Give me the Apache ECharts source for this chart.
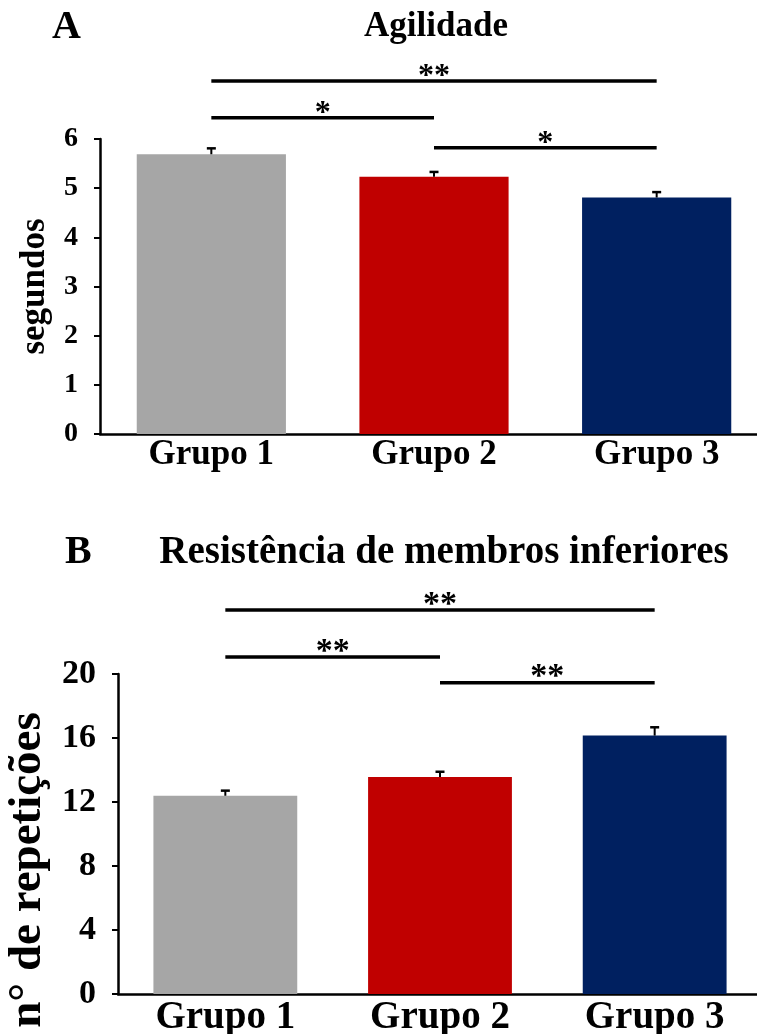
<!DOCTYPE html>
<html>
<head>
<meta charset="utf-8">
<script src="https://cdn.jsdelivr.net/npm/echarts@6/dist/echarts.min.js"></script>
<style>
html,body{margin:0;padding:0;background:#fff;}
#chart{width:757px;height:1034px;}
</style>
</head>
<body>
<div id="chart"></div>
<script>
// ---- data ----
var categories = ['Grupo 1', 'Grupo 2', 'Grupo 3'];
var agilidadeValues = [5.69, 5.23, 4.81];
var agilidadeErr = [0.12, 0.10, 0.11];
var resistenciaValues = [12.39, 13.56, 16.15];
var resistenciaErr = [0.32, 0.33, 0.52];
var agilidadeTicks = [0, 1, 2, 3, 4, 5, 6];
var resistenciaTicks = [0, 4, 8, 12, 16, 20];
// significance brackets: [from category, to category, level (axis units), label]
var agilidadeSig = [[0, 2, 7.18, '**'], [0, 1, 6.43, '*'], [1, 2, 5.82, '*']];
var resistenciaSig = [[0, 2, 24.0, '**'], [0, 1, 21.06, '**'], [1, 2, 19.46, '**']];

// ---- styles ----
var barColors = ['#a6a6a6', '#c00000', '#002060'];
var FONT = '"Liberation Serif", "Times New Roman", serif';

var chart = echarts.init(document.getElementById('chart'), null, {renderer: 'canvas'});

function errRender() {
  return function (params, api) {
    var i = api.value(0), v = api.value(1), e = api.value(2);
    var p0 = api.coord([i, v]);
    var p1 = api.coord([i, v + e]);
    var cap = 4.5;
    return {
      type: 'group',
      children: [
        {type: 'line', shape: {x1: p0[0], y1: p0[1], x2: p1[0], y2: p1[1]}, style: {stroke: '#000', lineWidth: 2}},
        {type: 'line', shape: {x1: p1[0] - cap, y1: p1[1], x2: p1[0] + cap, y2: p1[1]}, style: {stroke: '#000', lineWidth: 2.5}}
      ]
    };
  };
}

function sigRender(fontSize, textOffset) {
  return function (params, api) {
    var a = api.value(0), b = api.value(1), lvl = api.value(2);
    var p0 = api.coord([a, lvl]);
    var p1 = api.coord([b, lvl]);
    return {
      type: 'group',
      children: [
        {type: 'line', shape: {x1: p0[0], y1: p0[1], x2: p1[0], y2: p1[1]}, style: {stroke: '#000', lineWidth: 3.5}},
        {type: 'text', x: (p0[0] + p1[0]) / 2, y: p0[1] + textOffset,
          style: {text: api.value(3), fill: '#000', font: 'bold ' + fontSize + 'px ' + FONT, textAlign: 'center', textVerticalAlign: 'middle'}}
      ]
    };
  };
}

function yAxisCfg(gridIndex, ticks, name, nameSize, nameGap, labelSize, namePadding) {
  return {
    type: 'value', gridIndex: gridIndex,
    min: ticks[0], max: ticks[ticks.length - 1], interval: ticks[1] - ticks[0],
    name: name, nameLocation: 'middle', nameRotate: 90, nameGap: nameGap,
    nameTextStyle: {fontFamily: FONT, fontWeight: 'bold', fontSize: nameSize, color: '#000', padding: namePadding},
    axisLine: {show: true, lineStyle: {color: '#000', width: 2.5}},
    axisTick: {show: true, length: 6, lineStyle: {color: '#000', width: 2}},
    splitLine: {show: false},
    axisLabel: {fontFamily: FONT, fontWeight: 'bold', fontSize: labelSize, color: '#000', margin: 22}
  };
}

function xAxisCfg(gridIndex, labelSize, margin) {
  return {
    type: 'category', gridIndex: gridIndex, data: categories,
    axisLine: {show: true, lineStyle: {color: '#000', width: 2.5}},
    axisTick: {show: false},
    axisLabel: {fontFamily: FONT, fontWeight: 'bold', fontSize: labelSize, color: '#000', margin: margin, interval: 0}
  };
}

var option = {
  backgroundColor: '#fff',
  animation: false,
  title: [
    {text: 'A', left: 52, top: 8, padding: 0, textStyle: {fontFamily: FONT, fontWeight: 'bold', fontSize: 40, color: '#000'}},
    {text: 'Agilidade', left: 436, top: 9, textAlign: 'center', padding: 0, textStyle: {fontFamily: FONT, fontWeight: 'bold', fontSize: 35, color: '#000'}},
    {text: 'B', left: 65, top: 533, padding: 0, textStyle: {fontFamily: FONT, fontWeight: 'bold', fontSize: 40, color: '#000'}},
    {text: 'Resistência de membros inferiores', left: 444, top: 533, textAlign: 'center', padding: 0, textStyle: {fontFamily: FONT, fontWeight: 'bold', fontSize: 39, color: '#000'}}
  ],
  grid: [
    {left: 100, top: 139, width: 668, height: 295, containLabel: false, outerBoundsMode: 'none'},
    {left: 118, top: 674, width: 644, height: 320, containLabel: false, outerBoundsMode: 'none'}
  ],
  xAxis: [xAxisCfg(0, 35, 3), xAxisCfg(1, 39, 4)],
  yAxis: [
    yAxisCfg(0, agilidadeTicks, 'segundos', 35, 48, 28, 0),
    yAxisCfg(1, resistenciaTicks, 'n° de repetições', 47, 65, 34, [0, 72, 0, 0])
  ],
  series: [
    {type: 'bar', xAxisIndex: 0, yAxisIndex: 0, data: agilidadeValues, barWidth: '67%',
      itemStyle: {color: function (p) { return barColors[p.dataIndex]; }}},
    {type: 'custom', xAxisIndex: 0, yAxisIndex: 0, renderItem: errRender(), clip: false, z: 5,
      data: agilidadeValues.map(function (v, i) { return [i, v, agilidadeErr[i]]; })},
    {type: 'custom', xAxisIndex: 0, yAxisIndex: 0, renderItem: sigRender(32, -4), clip: false, z: 5,
      data: agilidadeSig},
    {type: 'bar', xAxisIndex: 1, yAxisIndex: 1, data: resistenciaValues, barWidth: '67%',
      itemStyle: {color: function (p) { return barColors[p.dataIndex]; }}},
    {type: 'custom', xAxisIndex: 1, yAxisIndex: 1, renderItem: errRender(), clip: false, z: 5,
      data: resistenciaValues.map(function (v, i) { return [i, v, resistenciaErr[i]]; })},
    {type: 'custom', xAxisIndex: 1, yAxisIndex: 1, renderItem: sigRender(34, -5), clip: false, z: 5,
      data: resistenciaSig}
  ]
};
chart.setOption(option);
</script>
</body>
</html>
